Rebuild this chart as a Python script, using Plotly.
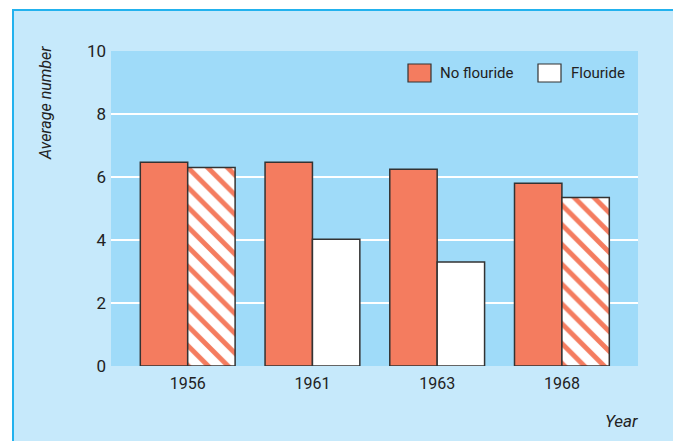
import plotly.graph_objects as go

years = ["1956", "1961", "1963", "1968"]
no_flouride = [6.47, 6.47, 6.25, 5.8]
flouride = [6.3, 4.02, 3.3, 5.35]
flouride_hatched = ["\\", "", "", "\\"]
y_ticks = [0, 2, 4, 6, 8, 10]

SALMON = "#f47c5f"
PLOT_BG = "#9fdbf9"
PAPER_BG = "#c6e9fb"
BORDER = "#22b2ee"
OUTLINE = "#333333"
TEXT = "#222222"
FONT = "Roboto, Arial, sans-serif"

# page has an 8px body margin; figure coordinates are page coords - 8
OFF = 8
W, H = 681 - OFF, 441 - OFF
L, R, T, B = 111 - OFF, 43, 51 - OFF, 75
pw, ph = W - L - R, H - T - B


def px(x):
    """page x pixel -> paper coordinate"""
    return (x - OFF - L) / pw


def py(y):
    """page y pixel -> paper coordinate"""
    return (H - B - (y - OFF)) / ph


fig = go.Figure()
fig.add_trace(go.Bar(
    x=years, y=no_flouride, name="No flouride",
    marker=dict(color=SALMON, line=dict(color=OUTLINE, width=1.5)),
))
fig.add_trace(go.Bar(
    x=years, y=flouride, name="Flouride",
    marker=dict(color="white", line=dict(color=OUTLINE, width=1.5),
                pattern=dict(shape=flouride_hatched, fgcolor=SALMON, bgcolor="white",
                             fgopacity=1, size=14, solidity=0.35, fillmode="overlay")),
))

shapes = [
    # white outside the frame (top strip and left strip)
    dict(type="rect", xref="paper", yref="paper", layer="below",
         x0=px(0), x1=px(700), y0=py(9), y1=py(0),
         fillcolor="white", line=dict(width=0)),
    dict(type="rect", xref="paper", yref="paper", layer="below",
         x0=px(0), x1=px(13), y0=py(460), y1=py(0),
         fillcolor="white", line=dict(width=0)),
    # frame border lines
    dict(type="line", xref="paper", yref="paper", layer="below",
         x0=px(13), x1=px(13), y0=py(460), y1=py(9),
         line=dict(color=BORDER, width=2)),
    dict(type="line", xref="paper", yref="paper", layer="below",
         x0=px(13), x1=px(681), y0=py(10), y1=py(10),
         line=dict(color=BORDER, width=2)),
    dict(type="line", xref="paper", yref="paper", layer="below",
         x0=px(679), x1=px(679), y0=py(460), y1=py(9),
         line=dict(color=BORDER, width=2)),
    # legend boxes
    dict(type="rect", xref="paper", yref="paper",
         x0=px(408), x1=px(431), y0=py(82), y1=py(64),
         fillcolor=SALMON, line=dict(color=OUTLINE, width=1.2)),
    dict(type="rect", xref="paper", yref="paper",
         x0=px(538), x1=px(561), y0=py(82), y1=py(64),
         fillcolor="white", line=dict(color=OUTLINE, width=1.2)),
]

annotations = [
    dict(text="No flouride", xref="paper", yref="paper", x=px(438), y=py(73),
         xanchor="left", yanchor="middle", showarrow=False,
         font=dict(family=FONT, size=15, color=TEXT)),
    dict(text="Flouride", xref="paper", yref="paper", x=px(569), y=py(73),
         xanchor="left", yanchor="middle", showarrow=False,
         font=dict(family=FONT, size=15, color=TEXT)),
    dict(text="<i>Average number</i>", xref="paper", yref="paper", x=px(45), y=py(44),
         xanchor="center", yanchor="top", textangle=-90, showarrow=False,
         font=dict(family=FONT, size=16, color=TEXT)),
    dict(text="<i>Year</i>", xref="paper", yref="paper", x=px(640), y=py(421),
         xanchor="right", yanchor="middle", showarrow=False,
         font=dict(family=FONT, size=17, color=TEXT)),
]

fig.update_layout(
    width=W, height=H,
    margin=dict(l=L, r=R, t=T, b=B),
    paper_bgcolor=PAPER_BG,
    plot_bgcolor=PLOT_BG,
    barmode="group", bargap=0.24, bargroupgap=0,
    showlegend=False,
    shapes=shapes, annotations=annotations,
    font=dict(family=FONT, size=15, color=TEXT),
    xaxis=dict(range=[-0.615, 3.61], showgrid=False, ticks="", showline=False,
               tickfont=dict(family=FONT, size=16, color=TEXT), ticklabelstandoff=6),
    yaxis=dict(range=[0, 10], tickvals=y_ticks, showgrid=True, gridcolor="white",
               gridwidth=2, zeroline=False, showline=False, ticks="",
               tickfont=dict(family=FONT, size=17, color=TEXT), ticklabelstandoff=4),
)

fig.write_html("out.html")
